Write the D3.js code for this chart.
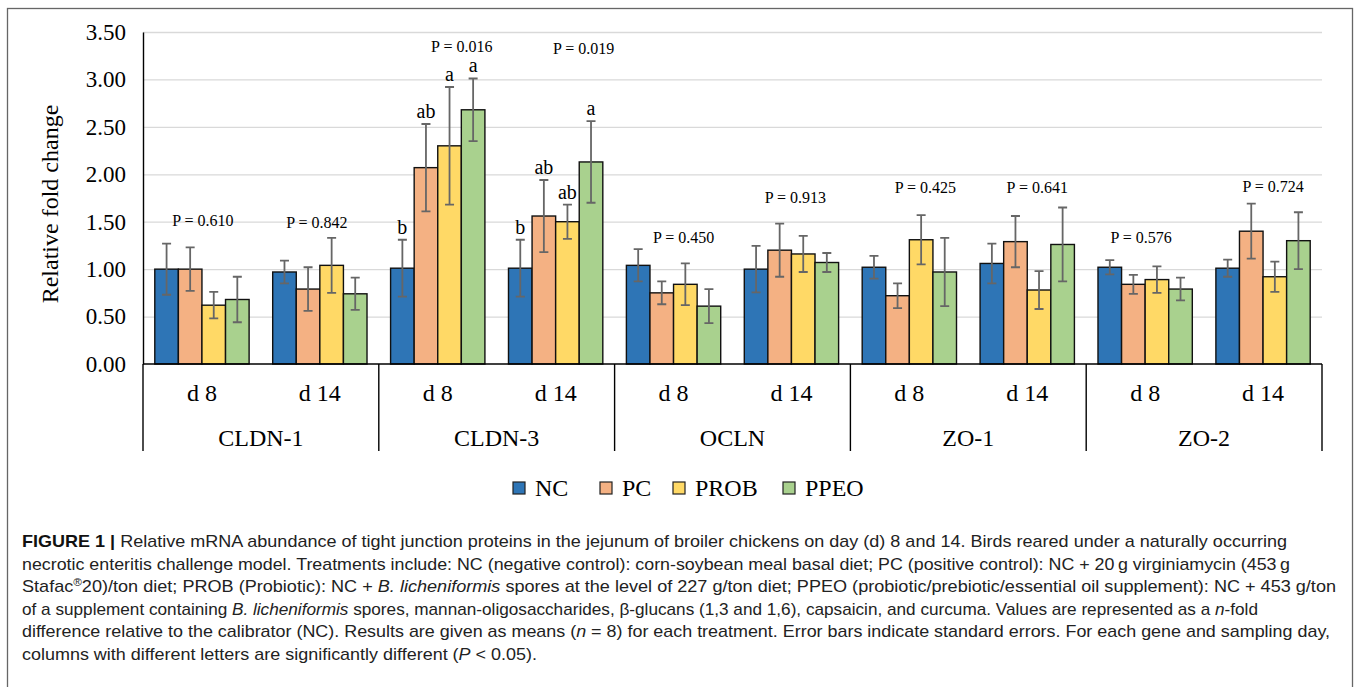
<!DOCTYPE html>
<html>
<head>
<meta charset="utf-8">
<script src="https://cdn.jsdelivr.net/npm/d3@7"></script>
<style>
  body { margin: 0; background: #fff; }
  svg { display: block; }
  .serif { font-family: "Liberation Serif", "Times New Roman", serif; fill: #000; }
  .cap { font-family: "Liberation Sans", Arial, sans-serif; font-size: 17px; fill: #222; }
</style>
</head>
<body>
<svg id="vis" width="1358" height="687"></svg>
<script>
// chart data
const genes = ["CLDN-1", "CLDN-3", "OCLN", "ZO-1", "ZO-2"];
const days = ["d 8", "d 14"];
const treatments = ["NC", "PC", "PROB", "PPEO"];
const colors = ["#2e75b6", "#f4b183", "#ffd966", "#a9d18e"];
const yTicks = [0, 0.5, 1, 1.5, 2, 2.5, 3, 3.5];

// means, one value per gene x day group
const meanNC   = [1.00, 0.97, 1.01, 1.01, 1.04, 1.00, 1.02, 1.06, 1.02, 1.01];
const meanPC   = [1.00, 0.79, 2.07, 1.56, 0.75, 1.20, 0.72, 1.29, 0.84, 1.40];
const meanPROB = [0.62, 1.04, 2.30, 1.50, 0.84, 1.16, 1.31, 0.78, 0.89, 0.92];
const meanPPEO = [0.68, 0.74, 2.68, 2.13, 0.61, 1.07, 0.97, 1.26, 0.79, 1.30];

// standard errors
const seNC   = [0.27, 0.12, 0.30, 0.30, 0.17, 0.245, 0.12, 0.21, 0.075, 0.09];
const sePC   = [0.23, 0.23, 0.46, 0.38, 0.12, 0.28, 0.13, 0.27, 0.10, 0.29];
const sePROB = [0.14, 0.29, 0.62, 0.18, 0.22, 0.19, 0.26, 0.20, 0.14, 0.16];
const sePPEO = [0.24, 0.17, 0.33, 0.43, 0.18, 0.10, 0.36, 0.39, 0.12, 0.30];

// significance letters (only CLDN-3)
const letters = [
  ["", "", "", ""], ["", "", "", ""],
  ["b", "ab", "a", "a"], ["b", "ab", "ab", "a"],
  ["", "", "", ""], ["", "", "", ""], ["", "", "", ""],
  ["", "", "", ""], ["", "", "", ""], ["", "", "", ""]
];

const pLabels = ["P = 0.610", "P = 0.842", "P = 0.016", "P = 0.019", "P = 0.450",
                 "P = 0.913", "P = 0.425", "P = 0.641", "P = 0.576", "P = 0.724"];
const pLevel = [1.45, 1.43, 3.29, 3.27, 1.28, 1.70, 1.80, 1.80, 1.28, 1.81];
const pShift = [1, -3, 24, 28, 10, 4, 16, 10, -4, 10];

const captionLines = [
  [["b", "FIGURE 1 | "], ["", "Relative mRNA abundance of tight junction proteins in the jejunum of broiler chickens on day (d) 8 and 14. Birds reared under a naturally occurring"]],
  [["", "necrotic enteritis challenge model. Treatments include: NC (negative control): corn-soybean meal basal diet; PC (positive control): NC + 20\u2009g virginiamycin (453\u2009g"]],
  [["", "Stafac"], ["sup", "®"], ["down", "20)/ton diet; PROB (Probiotic): NC + "], ["i", "B. licheniformis"], ["", " spores at the level of 227 g/ton diet; PPEO (probiotic/prebiotic/essential oil supplement): NC + 453 g/ton"]],
  [["", "of a supplement containing "], ["i", "B. licheniformis"], ["", " spores, mannan-oligosaccharides, β-glucans (1,3 and 1,6), capsaicin, and curcuma. Values are represented as a "], ["i", "n"], ["", "-fold"]],
  [["", "difference relative to the calibrator (NC). Results are given as means ("], ["i", "n"], ["", " = 8) for each treatment. Error bars indicate standard errors. For each gene and sampling day,"]],
  [["", "columns with different letters are significantly different ("], ["i", "P"], ["", " < 0.05)."]]
];
const captionWidths = [1265, 1268, 1314, 1236, 1308, 515];

const means = [meanNC, meanPC, meanPROB, meanPPEO];
const ses = [seNC, sePC, sePROB, sePPEO];

const groups = [];
genes.forEach(function(g) { days.forEach(function(d) { groups.push(g + "|" + d); }); });

const svg = d3.select("#vis");

// frame around the figure
svg.append("rect")
  .attr("x", 7.5).attr("y", 8.5)
  .attr("width", 1345).attr("height", 700)
  .attr("fill", "none").attr("stroke", "#666").attr("stroke-width", 1.3);

const plotLeft = 143, plotRight = 1322, plotTop = 32, plotBottom = 364;

const y = d3.scaleLinear().domain([0, 3.5]).range([plotBottom, plotTop]);
const x0 = d3.scaleBand().domain(groups).range([plotLeft, plotRight]);
const x1 = d3.scaleBand().domain(treatments).range([0, x0.bandwidth()]).paddingOuter(0.5);
const xg = d3.scaleBand().domain(genes).range([plotLeft, plotRight]);
const color = d3.scaleOrdinal().domain(treatments).range(colors);

// gridlines
svg.append("g")
  .attr("transform", "translate(" + plotLeft + ",0)")
  .call(d3.axisLeft(y).tickValues(yTicks.slice(1)).tickSize(-(plotRight - plotLeft)).tickFormat(""))
  .call(function(g) {
    g.select(".domain").remove();
    g.selectAll("line").attr("stroke", "#d9d9d9").attr("stroke-width", 1.3);
  });

// y axis labels
svg.append("g")
  .attr("transform", "translate(" + plotLeft + ",0)")
  .call(d3.axisLeft(y).tickValues(yTicks).tickSize(0).tickPadding(17).tickFormat(d3.format(".2f")))
  .call(function(g) {
    g.select(".domain").attr("stroke", "#000").attr("stroke-width", 1.4);
    g.selectAll("text").attr("class", "serif").style("font-size", "23px");
  });

svg.append("text")
  .attr("class", "serif")
  .attr("transform", "translate(52," + ((plotTop + plotBottom) / 2 + 6) + ") rotate(-90)")
  .attr("text-anchor", "middle")
  .attr("dominant-baseline", "middle")
  .style("font-size", "24px")
  .text("Relative fold change");

// bars
const rows = [];
groups.forEach(function(key, gi) {
  treatments.forEach(function(t, ti) {
    rows.push({key: key, gi: gi, t: t, v: means[ti][gi], se: ses[ti][gi], letter: letters[gi][ti]});
  });
});

const bar = svg.append("g").selectAll("g.bar")
  .data(rows)
  .enter()
  .append("g")
  .attr("class", "bar")
  .attr("transform", function(d) { return "translate(" + (x0(d.key) + x1(d.t)) + ",0)"; });

bar.append("rect")
  .attr("y", function(d) { return y(d.v); })
  .attr("width", x1.bandwidth())
  .attr("height", function(d) { return y(0) - y(d.v); })
  .attr("fill", function(d) { return color(d.t); })
  .attr("stroke", "#111")
  .attr("stroke-width", 1.4);

// error bars
const cx = x1.bandwidth() / 2;
bar.append("path")
  .attr("d", function(d) {
    const a = y(d.v + d.se), b = y(d.v - d.se);
    return "M" + cx + "," + a + "V" + b +
      "M" + (cx - 4.5) + "," + a + "H" + (cx + 4.5) +
      "M" + (cx - 4.5) + "," + b + "H" + (cx + 4.5);
  })
  .attr("fill", "none")
  .attr("stroke", "#666")
  .attr("stroke-width", 1.8);

bar.filter(function(d) { return d.letter; })
  .append("text")
  .attr("class", "serif")
  .attr("x", cx)
  .attr("y", function(d) { return y(d.v + d.se) - 6; })
  .attr("text-anchor", "middle")
  .style("font-size", "20px")
  .text(function(d) { return d.letter; });

// P values
svg.append("g").selectAll("text")
  .data(groups)
  .enter()
  .append("text")
  .attr("class", "serif")
  .attr("x", function(d, i) { return x0(d) + x0.bandwidth() / 2 + pShift[i]; })
  .attr("y", function(d, i) { return y(pLevel[i]); })
  .attr("text-anchor", "middle")
  .style("font-size", "16px")
  .text(function(d, i) { return pLabels[i]; });

// x axis with two-level categories
svg.append("line")
  .attr("x1", plotLeft).attr("x2", plotRight)
  .attr("y1", plotBottom).attr("y2", plotBottom)
  .attr("stroke", "#000").attr("stroke-width", 1.4);

const seps = genes.map(function(g) { return xg(g); }).concat([plotRight]);
svg.append("g").selectAll("line")
  .data(seps)
  .enter()
  .append("line")
  .attr("x1", function(d) { return d; }).attr("x2", function(d) { return d; })
  .attr("y1", plotBottom).attr("y2", 451)
  .attr("stroke", "#000").attr("stroke-width", 1.4);

svg.append("g").selectAll("text")
  .data(groups)
  .enter()
  .append("text")
  .attr("class", "serif")
  .attr("x", function(d) { return x0(d) + x0.bandwidth() / 2; })
  .attr("y", 401)
  .attr("text-anchor", "middle")
  .style("font-size", "24px")
  .text(function(d) { return d.split("|")[1]; });

svg.append("g").selectAll("text")
  .data(genes)
  .enter()
  .append("text")
  .attr("class", "serif")
  .attr("x", function(d) { return xg(d) + xg.bandwidth() / 2; })
  .attr("y", 446)
  .attr("text-anchor", "middle")
  .style("font-size", "24px")
  .text(function(d) { return d; });

// legend
const legendX = [513, 600, 673, 783];
const legend = svg.append("g").selectAll("g")
  .data(treatments)
  .enter()
  .append("g")
  .attr("transform", function(d, i) { return "translate(" + legendX[i] + ",482)"; });
legend.append("rect")
  .attr("width", 12).attr("height", 12)
  .attr("fill", function(d) { return color(d); })
  .attr("stroke", "#222").attr("stroke-width", 1.2);
legend.append("text")
  .attr("class", "serif")
  .attr("x", 22).attr("y", 14)
  .style("font-size", "24px")
  .text(function(d) { return d; });

// caption
const cap = svg.append("g");
captionLines.forEach(function(line, li) {
  const t = cap.append("text")
    .attr("class", "cap")
    .attr("x", 22)
    .attr("y", 547 + li * 22.6);
  if (captionWidths[li]) {
    t.attr("textLength", captionWidths[li]).attr("lengthAdjust", "spacingAndGlyphs");
  }
  line.forEach(function(part) {
    const s = t.append("tspan").text(part[1]);
    if (part[0] === "b") s.style("font-weight", "bold").style("fill", "#111");
    if (part[0] === "i") s.style("font-style", "italic");
    if (part[0] === "sup") s.style("font-size", "11px").attr("dy", -6);
    if (part[0] === "down") s.attr("dy", 6);
  });
});
</script>
</body>
</html>
